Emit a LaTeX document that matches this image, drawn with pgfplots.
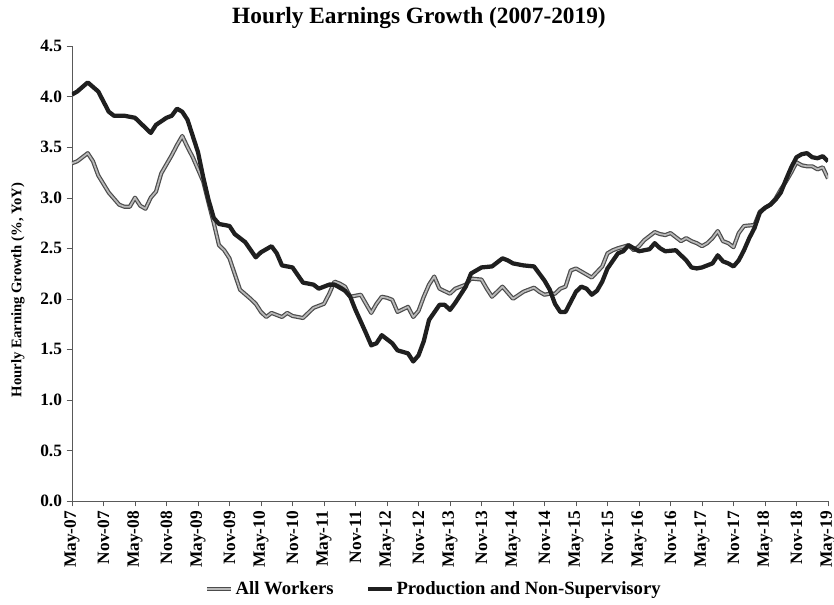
\documentclass[border=0pt]{standalone}
\usepackage{pgfplots}
\pgfplotsset{compat=1.18}
\usepackage{pgfplotstable}
\usepackage{fontspec}
\setmainfont{Liberation Serif}

% month index (0 = May-07), YoY growth in percent
\pgfplotstableread{
m v
0 3.34
1 3.36
3 3.44
4 3.36
5 3.22
7 3.05
9 2.93
10 2.91
11 2.91
12 3.00
13 2.92
14 2.89
15 3.00
16 3.06
17 3.24
18 3.33
19 3.42
20 3.52
21 3.61
22 3.50
23 3.40
24 3.28
25 3.16
26 2.95
27 2.75
28 2.53
29 2.48
30 2.40
32 2.09
34 2.00
35 1.95
36 1.87
37 1.82
38 1.86
39 1.84
40 1.82
41 1.86
42 1.83
43 1.82
44 1.81
45 1.86
46 1.91
48 1.95
49 2.05
50 2.17
51 2.15
52 2.12
53 2.02
55 2.04
56 1.95
57 1.86
58 1.95
59 2.02
60 2.01
61 1.99
62 1.87
64 1.92
65 1.82
66 1.88
67 2.02
68 2.14
69 2.22
70 2.10
72 2.05
73 2.10
75 2.14
76 2.20
78 2.19
79 2.10
80 2.02
82 2.12
83 2.06
84 2.00
86 2.07
88 2.11
89 2.07
90 2.04
91 2.05
92 2.05
93 2.10
94 2.12
95 2.28
96 2.30
98 2.24
99 2.21
101 2.32
102 2.45
103 2.48
104 2.50
106 2.53
107 2.48
108 2.52
109 2.58
111 2.66
112 2.64
113 2.63
114 2.65
116 2.57
117 2.60
118 2.57
119 2.55
120 2.52
121 2.55
122 2.60
123 2.67
124 2.57
125 2.55
126 2.51
127 2.65
128 2.72
130 2.73
131 2.86
132 2.90
133 2.93
134 2.99
135 3.08
136 3.16
137 3.25
138 3.35
139 3.32
140 3.31
141 3.31
142 3.28
143 3.30
144 3.19
}\allworkers

\pgfplotstableread{
m v
0 4.02
1 4.05
3 4.14
5 4.05
7 3.85
8 3.81
10 3.81
12 3.79
13 3.74
15 3.64
16 3.72
18 3.79
19 3.81
20 3.88
21 3.85
22 3.77
24 3.45
25 3.20
26 2.98
27 2.80
28 2.74
30 2.72
31 2.64
33 2.56
35 2.41
36 2.46
38 2.52
39 2.45
40 2.33
42 2.31
44 2.16
46 2.14
47 2.10
49 2.14
50 2.14
52 2.08
53 2.02
54 1.89
56 1.66
57 1.54
58 1.56
59 1.64
61 1.56
62 1.49
64 1.46
65 1.38
66 1.44
67 1.58
68 1.79
70 1.94
71 1.94
72 1.89
73 1.96
75 2.12
76 2.25
78 2.31
80 2.32
82 2.40
83 2.38
84 2.35
86 2.33
88 2.32
89 2.25
90 2.18
91 2.09
92 1.95
93 1.87
94 1.87
95 1.97
96 2.07
97 2.12
98 2.10
99 2.04
100 2.08
101 2.17
102 2.30
104 2.45
105 2.47
106 2.53
107 2.50
108 2.47
110 2.49
111 2.55
112 2.50
113 2.47
115 2.48
117 2.38
118 2.31
119 2.30
120 2.31
121 2.33
122 2.35
123 2.43
124 2.37
125 2.35
126 2.32
127 2.38
128 2.48
129 2.60
130 2.70
131 2.85
132 2.90
133 2.93
134 2.98
135 3.05
136 3.18
137 3.30
138 3.40
139 3.43
140 3.44
141 3.40
142 3.39
143 3.41
144 3.36
}\production

\begin{document}
\begin{tikzpicture}
\begin{axis}[
    name=ax,
    scale only axis,
    width=567pt,
    height=341.25pt,
    xmin=0, xmax=144,
    ymin=0, ymax=4.5,
    axis lines=left,
    axis line style={-, gray!70!black},
    tick style={gray!70!black},
    tick align=outside,
    major tick length=4pt,
    xtick={0,6,...,144},
    xticklabels={May-07,Nov-07,May-08,Nov-08,May-09,Nov-09,May-10,Nov-10,May-11,Nov-11,May-12,Nov-12,May-13,Nov-13,May-14,Nov-14,May-15,Nov-15,May-16,Nov-16,May-17,Nov-17,May-18,Nov-18,May-19},
    xticklabel style={rotate=90, anchor=east, font=\fontsize{13}{13}\selectfont\bfseries},
    ytick={0,0.5,...,4.5},
    yticklabel style={font=\fontsize{13}{13}\selectfont\bfseries, /pgf/number format/fixed, /pgf/number format/precision=1, /pgf/number format/fixed zerofill},
    /pgf/number format/assume math mode=true,
    title={Hourly Earnings Growth (2007-2019)},
    title style={at={(axis description cs:0.459,1)}, anchor=base, yshift=11pt, font=\fontsize{17.5}{17.5}\selectfont\bfseries},
    ylabel={Hourly Earning Growth (\%, YoY)},
    ylabel style={at={(axis description cs:-0.0714,0.464)}, anchor=center, font=\fontsize{11}{11}\selectfont\bfseries},
    legend style={at={(0.479,0)}, anchor=center, yshift=-66pt, draw=none,
        font=\fontsize{14}{14}\selectfont\bfseries, legend columns=2,
        /tikz/every even column/.append style={column sep=22pt}},
    legend image code/.code={\draw[#1] (0pt,0pt) -- (18pt,0pt);},
]
\addplot[draw=gray!60!black, double=gray!55, double distance=1.3pt, line width=0.9pt, line join=round] table[x=m, y=v] {\allworkers};
\addplot[draw=black!88, line width=3.2pt, line join=round] table[x=m, y=v] {\production};
\legend{All Workers, Production and Non-Supervisory}
\end{axis}
\pgfresetboundingbox
\path[use as bounding box] ([xshift=-54pt, yshift=-77.25pt]ax.south west) rectangle ([xshift=4.5pt, yshift=34.5pt]ax.north east);
\end{tikzpicture}
\end{document}
